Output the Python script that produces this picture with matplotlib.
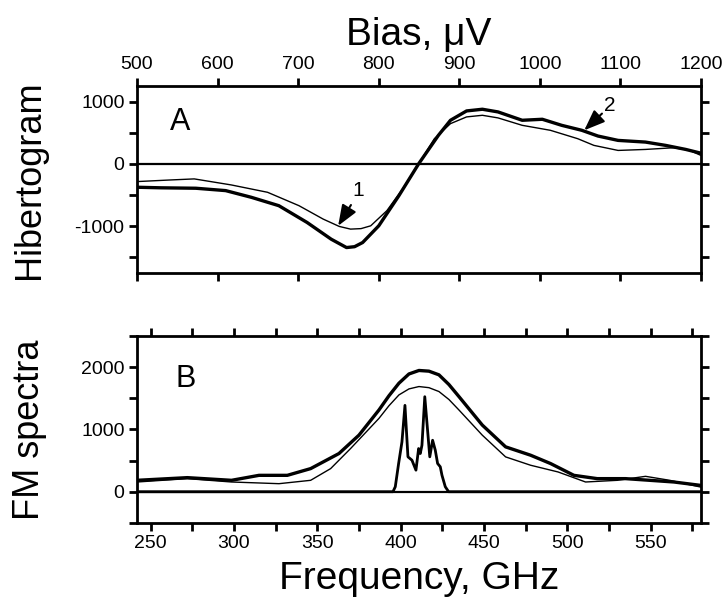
import numpy as np
import matplotlib
matplotlib.use('Agg')
import matplotlib.pyplot as plt
from matplotlib.ticker import MultipleLocator

plt.rcParams['font.family'] = ['Liberation Sans', 'DejaVu Sans']
plt.rcParams['axes.unicode_minus'] = False

#top panel: Hilbert transform response vs bias (uV)
bias_thick = [500, 530, 573, 610, 642, 676, 711, 741, 760, 770, 780, 800, 825, 849.5, 874, 889, 909, 928.6,
              948, 978, 1003, 1027, 1052, 1072, 1097, 1131, 1156, 1181, 1200]
hilb_thick = [-376, -385, -392, -430, -538, -672, -941, -1210, -1344, -1330, -1263, -995, -511, 0, 457, 699, 849, 876,
              833, 699, 715, 618, 538, 446, 376, 349, 296, 231, 170]

bias_thin = [500, 540, 571, 617, 662, 701, 731, 751, 765, 778, 790, 810, 829.6, 849.5, 869, 889, 909, 928.6,
             948, 978, 1013, 1047, 1067, 1097, 1131, 1166, 1185, 1200]
hilb_thin = [-285, -260, -242, -339, -457, -672, -887, -1005, -1048, -1040, -995, -753, -403, 0, 403, 645, 753, 779,
             737, 618, 538, 403, 296, 215, 231, 258, 220, 134]

#bottom panel: FM spectra vs frequency (GHz)
freq_thick = [241.8, 272, 298.5, 315, 332, 346, 363, 375, 387, 393, 399, 405, 411, 417, 423, 429, 435, 449,
              463, 478, 490, 504, 518, 535, 549.5, 564, 580]
spec_thick = [183, 226, 183, 263, 263, 371, 613, 908, 1312, 1540, 1742, 1890, 1946, 1935, 1876, 1720, 1527, 1070,
              720, 586, 452, 263, 210, 210, 183, 156, 102]

freq_thin = [241.8, 272, 298.5, 327, 346, 358, 370, 387, 393, 399, 405, 411, 417, 423, 429, 435, 449, 463,
             478, 494.5, 511, 530, 547, 561.5, 580]
spec_thin = [156, 210, 156, 129, 183, 371, 694, 1177, 1380, 1554, 1650, 1688, 1670, 1608, 1480, 1312, 908, 559,
             425, 317, 156, 183, 247, 183, 75]

freq_spike = [241.8, 395.4, 396.8, 398.8, 400.8, 402.6, 404.4, 406.8, 409.2, 410.8, 411.8, 412.8, 414.5, 417.5,
              419.2, 420.8, 422.2, 423.8, 424.8, 426.8, 428.8, 580]
spec_spike = [0, 0, 80, 453, 800, 1386, 560, 506, 346, 693, 613, 746, 1525, 560,
              826, 666, 453, 400, 266, 80, 0, 0]

#Josephson relation: 483.6 GHz per mV
f_per_uV = 0.4836

fig = plt.figure(figsize=(7.25, 6.01), dpi=100)
ax1 = fig.add_axes([0.189, 0.546, 0.778, 0.311])
ax2 = fig.add_axes([0.189, 0.130, 0.778, 0.311])

for ax in (ax1, ax2):
    for s in ax.spines.values():
        s.set_linewidth(2)
    ax.axhline(0, color='black', lw=1.6, zorder=1)

#top panel
ax1.plot(bias_thin, hilb_thin, color='black', lw=1.0)
ax1.plot(bias_thick, hilb_thick, color='black', lw=2.4)
ax1.set_xlim(500, 1200)
ax1.set_ylim(-1750, 1250)
ax1.xaxis.set_major_locator(MultipleLocator(100))
ax1.yaxis.set_major_locator(MultipleLocator(1000))
ax1.yaxis.set_minor_locator(MultipleLocator(500))
ax1.tick_params(axis='x', which='both', top=True, bottom=True, labeltop=True, labelbottom=False,
                direction='out', length=6, width=2, labelsize=14, pad=3)
ax1.tick_params(axis='y', which='both', left=True, right=True, direction='out', length=6, width=2,
                labelsize=14, pad=3)
ax1.xaxis.set_label_position('top')
ax1.set_xlabel('Bias, \u03bcV', fontsize=28, labelpad=8)
ax1.set_ylabel('Hibertogram', fontsize=26)
ax1.yaxis.set_label_coords(-0.16, 0.5)
ax1.text(553, 672, 'A', fontsize=22, ha='center', va='center')

#arrows to curves
arrow_style = dict(arrowstyle='-|>,head_length=0.9,head_width=0.35', color='black', lw=1.5,
                   shrinkA=0, shrinkB=0, mutation_scale=14)
ax1.annotate('', xy=(749.6, -995), xytext=(765.5, -661), arrowprops=arrow_style)
ax1.text(775, -430, '1', fontsize=15, ha='center', va='center')
ax1.annotate('', xy=(1055, 538), xytext=(1077, 806), arrowprops=arrow_style)
ax1.text(1087, 940, '2', fontsize=15, ha='center', va='center')

#bottom panel
ax2.plot(freq_thin, spec_thin, color='black', lw=1.0)
ax2.plot(freq_thick, spec_thick, color='black', lw=2.4)
ax2.plot(freq_spike, spec_spike, color='black', lw=2.0)
ax2.set_xlim(500 * f_per_uV, 1200 * f_per_uV)
ax2.set_ylim(-500, 2500)
ax2.xaxis.set_major_locator(MultipleLocator(50))
ax2.xaxis.set_minor_locator(MultipleLocator(25))
ax2.yaxis.set_major_locator(MultipleLocator(1000))
ax2.yaxis.set_minor_locator(MultipleLocator(500))
ax2.tick_params(axis='x', which='both', top=True, bottom=True, direction='out', length=6, width=2,
                labelsize=14, pad=3)
ax2.tick_params(axis='y', which='both', left=True, right=True, direction='out', length=6, width=2,
                labelsize=14, pad=3)
ax2.set_xlabel('Frequency, GHz', fontsize=28, labelpad=6)
ax2.set_ylabel('FM spectra', fontsize=26)
ax2.yaxis.set_label_coords(-0.16, 0.5)
ax2.text(271, 1808, 'B', fontsize=22, ha='center', va='center')

fig.savefig('out.png', dpi=100)
